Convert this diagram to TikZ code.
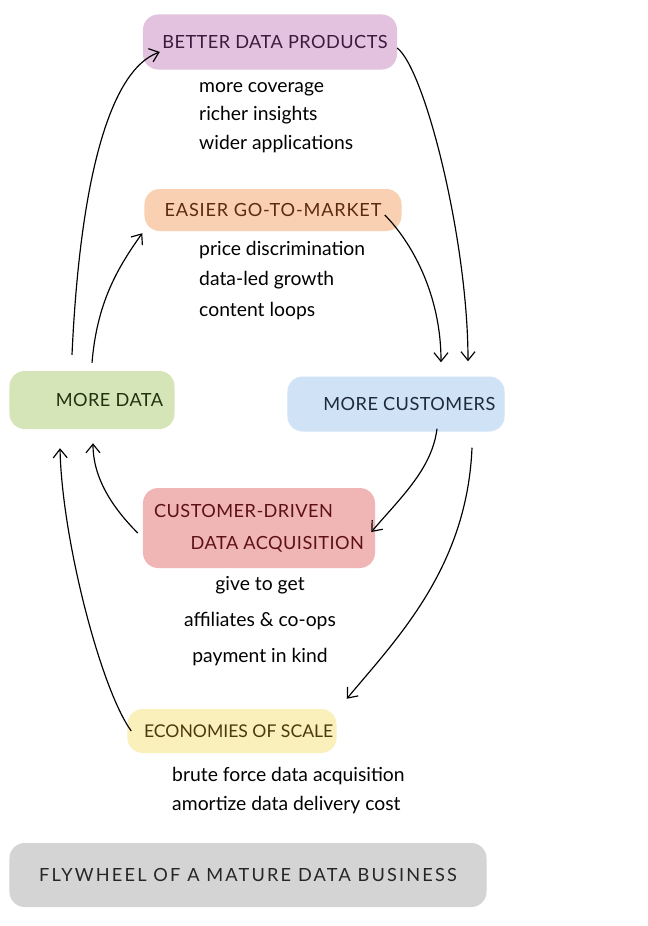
\documentclass[tikz,border=0pt]{standalone}
\usepackage{fontspec}
\setmainfont{Lato}
\newfontfamily\headfont[LetterSpace=2.5]{Lato}
\usepackage{xcolor}
\usepackage{tikz}
\usetikzlibrary{calc,arrows.meta}
\definecolor{lilac}{HTML}{E3C2DF}
\definecolor{peach}{HTML}{F9D1B2}
\definecolor{sage}{HTML}{D6E5B8}
\definecolor{sky}{HTML}{CFE2F6}
\definecolor{rose}{HTML}{F0B6B6}
\definecolor{cream}{HTML}{FAF0BC}
\definecolor{ash}{HTML}{D4D4D4}
\definecolor{plum}{HTML}{3C1A3E}
\definecolor{rust}{HTML}{5C2A10}
\definecolor{moss}{HTML}{1F3310}
\definecolor{ink}{HTML}{1C2A3C}
\definecolor{wine}{HTML}{5E1018}
\definecolor{olive}{HTML}{4A3A0E}
\begin{document}
\begin{tikzpicture}[x=0.03cm,y=-0.03cm,
  box/.style={rounded corners=13pt,inner sep=0pt,font=\headfont\fontsize{15.5}{27}\selectfont},
  list/.style={inner sep=0pt,align=left,font=\fontsize{16.5}{24.5}\selectfont},
  flow/.style={line width=1pt,-{Straight Barb[length=2.6mm,width=4.2mm]}}]
\useasboundingbox[fill=white] (0,0) rectangle (648,926);
\node[box,fill=lilac,text=plum,minimum width=7.62cm,minimum height=1.65cm] (better) at (270,42) {\hspace*{0.3cm}BETTER DATA PRODUCTS};
\node[box,fill=peach,text=rust,minimum width=7.71cm,minimum height=1.26cm,font=\headfont\fontsize{15.5}{27}\selectfont\addfontfeatures{LetterSpace=4.5}] (gtm) at (273,210) {EASIER GO-TO-MARKET};
\node[box,fill=sage,text=moss,minimum width=4.95cm,minimum height=1.74cm] (data) at (92,400) {\hspace*{1.05cm}MORE DATA};
\node[box,fill=sky,text=ink,minimum width=6.51cm,minimum height=1.65cm] (cust) at (396,404) {\hspace*{0.8cm}MORE CUSTOMERS};
\node[box,fill=rose,text=wine,minimum width=6.96cm,minimum height=2.4cm,align=left] (acq) at (259,528) {CUSTOMER-DRIVEN\\\hspace*{1.1cm}DATA ACQUISITION};
\node[box,fill=cream,text=olive,minimum width=6.27cm,minimum height=1.32cm,font=\headfont\fontsize{15}{27}\selectfont\addfontfeatures{LetterSpace=0}] (scale) at (232,731) {\hspace*{0.4cm}ECONOMIES OF SCALE};
\node[box,fill=ash,text=black!85,minimum width=14.31cm,minimum height=1.92cm,font=\headfont\fontsize{15.5}{18}\selectfont\addfontfeatures{LetterSpace=12}] (flywheel) at (248,875) {FLYWHEEL OF A MATURE DATA BUSINESS};
\node[list,anchor=north west] (betterlist) at (199,82) {more coverage\\richer insights\\wider applications};
\node[list,anchor=north west,font=\fontsize{16.5}{26}\selectfont] (gtmlist) at (199,241) {price discrimination\\data-led growth\\content loops};
\node[list,anchor=north,align=center,font=\fontsize{16.5}{31}\selectfont] (acqlist) at (260,576) {give to get\\affiliates \& co-ops\\payment in kind};
\node[list,anchor=north west] (scalelist) at (172,767) {brute force data acquisition\\amortize data delivery cost};
\draw[flow] ($(data.north)+(-20,-16)$) .. controls +(8,-175) and +(-50,18) .. ($(better.west)+(17,10)$);
\draw[flow] ($(data.north)+(0,-8)$) .. controls +(5,-60) and +(-25,35) .. ($(gtm.south west)+(-2,2)$);
\draw[flow] ($(better.east)+(0,6)$) .. controls +(28,22) and +(0,-120) .. ($(cust.north)+(72,-15)$);
\draw[flow] ($(gtm.east)+(-17,5)$) .. controls +(25,25) and +(0,-70) .. ($(cust.north)+(45,-14)$);
\draw[flow] ($(cust.south)+(41,-3)$) .. controls +(-5,40) and +(30,-35) .. ($(acq.east)+(-4,4)$);
\draw[flow] ($(cust.south)+(76,16)$) .. controls +(-5,120) and +(50,-60) .. ($(scale.north east)+(10,-10)$);
\draw[flow] ($(acq.west)+(-5,5)$) .. controls +(-25,-25) and +(0,35) .. ($(data.south)+(1,14)$);
\draw[flow] ($(scale.west)+(4,0)$) .. controls +(-30,-41) and +(2,92) .. ($(data.south)+(-32,19)$);
\end{tikzpicture}
\end{document}
